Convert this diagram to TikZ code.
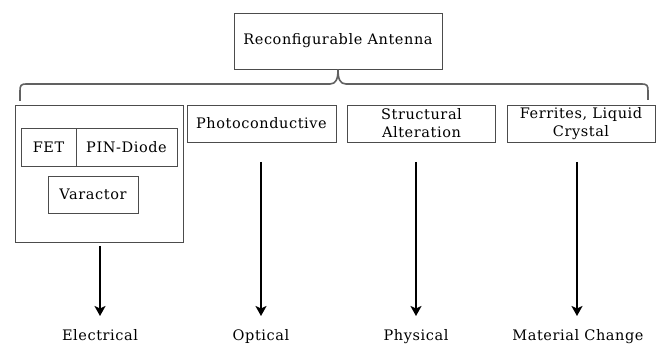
\documentclass[tikz,border=0pt]{standalone}
\usepackage{fontspec}
\setmainfont{DejaVu Serif}[LetterSpace=4]
\usetikzlibrary{arrows.meta}
\begin{document}
\begin{tikzpicture}[x=1pt,y=-1pt,
  every node/.style={font=\fontsize{14.5}{18}\selectfont, text=black, inner sep=0pt},
  box/.style={draw=black!70, line width=0.9pt},
  lbl/.style={anchor=base},
  brace/.style={draw=black!62, line width=1.6pt},
  arr/.style={draw=black, line width=2pt, -{Stealth[length=10pt,width=11pt,inset=2.5pt]}}]
\useasboundingbox (0,0) rectangle (667,344);
% top
\node[box, minimum width=208pt, minimum height=56pt] (top) at (338,41) {Reconfigurable Antenna};
% brace
\draw[brace] (20,101) -- (20,91) .. controls (20,85.5) and (21,84) .. (26,84) -- (330,84)
  .. controls (336,84) and (338,79) .. (top.south)
  .. controls (338,79) and (340,84) .. (346,84) -- (642,84)
  .. controls (647,84) and (648,85.5) .. (648,91) -- (648,100);
% electrical group
\node[box, minimum width=168pt, minimum height=137pt] (elec) at (99,173.5) {};
\node[box, minimum width=55pt, minimum height=38pt] (fet) at (48.5,147) {FET};
\node[box, minimum width=101pt, minimum height=38pt] (pin) at (126.5,147) {PIN-Diode};
\node[box, minimum width=90pt, minimum height=37pt] (var) at (93,194.5) {Varactor};
% other boxes
\node[box, minimum width=149pt, minimum height=37pt] (photo) at (261.5,123.5) {Photoconductive};
\node[box, minimum width=148pt, minimum height=37pt, align=center] (struct) at (421.5,123.5) {Structural\\Alteration};
\node[box, minimum width=148pt, minimum height=37pt, align=center] (ferr) at (581,123.5) {Ferrites, Liquid\\Crystal};
% labels
\node[lbl] (lelec) at (100,340.5) {Electrical};
\node[lbl] (lopt) at (261,340.5) {Optical};
\node[lbl] (lphys) at (416,340.5) {Physical};
\node[lbl] (lmat) at (578,340.5) {Material Change};
% arrow starts and tips
\coordinate (s1) at (100,246);
\coordinate (s2) at (261,162);
\coordinate (s3) at (416,162);
\coordinate (s4) at (577,162);
\coordinate (t1) at (100,316);
\coordinate (t2) at (261,316);
\coordinate (t3) at (416,316);
\coordinate (t4) at (577,316);
\draw[arr] (s1) -- (t1);
\draw[arr] (s2) -- (t2);
\draw[arr] (s3) -- (t3);
\draw[arr] (s4) -- (t4);
\end{tikzpicture}
\end{document}
